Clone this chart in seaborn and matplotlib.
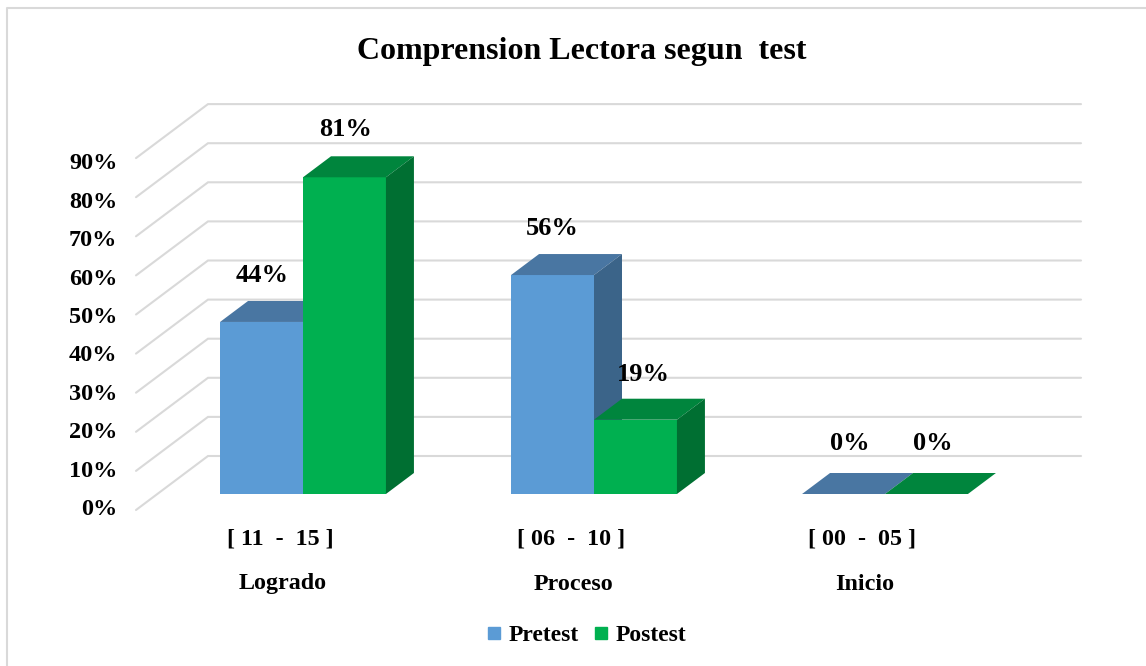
import matplotlib
matplotlib.use("Agg")
import matplotlib.pyplot as plt
from matplotlib.lines import Line2D
from matplotlib.patches import Polygon
import pandas as pd
import seaborn as sns

rangos = ["[ 11  -  15 ]", "[ 06  -  10 ]", "[ 00  -  05 ]"]
niveles = ["Logrado", "Proceso", "Inicio"]
pretest = [44, 56, 0]
postest = [81, 19, 0]
etiquetas_y = [0, 10, 20, 30, 40, 50, 60, 70, 80, 90]

azul = "#5B9BD5"
azul_top = "#4976A2"
azul_lado = "#3B6489"
verde = "#00B050"
verde_top = "#00853D"
verde_lado = "#006F32"
gris = "#D9D9D9"

W, H = 1146, 666
PX_X = 291.0   # pixeles por categoria
PX_Y = 3.91    # pixeles por punto porcentual
X0, Y0 = 157.5, 494.0


def px_x(p):
    return p / PX_X


def px_y(p):
    return p / PX_Y


sns.set_theme(style="white")
plt.rcParams["font.family"] = ["Liberation Serif", "DejaVu Serif"]
plt.rcParams["font.weight"] = "bold"

fig = plt.figure(figsize=(W / 100, H / 100), dpi=100)
ax = fig.add_axes([X0 / W, 1 - Y0 / H, 3 * PX_X / W, 100 * PX_Y / H])

df = pd.DataFrame({
    "nivel": niveles * 2,
    "valor": pretest + postest,
    "test": ["Pretest"] * 3 + ["Postest"] * 3,
})
sns.barplot(data=df, x="nivel", y="valor", hue="test", palette=[azul, verde],
            width=0.57, gap=0, saturation=1, legend=False, ax=ax)
ax.set_xlim(-0.5, 2.5)
ax.set_ylim(0, 100)
ax.set_xlabel("")
ax.set_ylabel("")
ax.set_xticks([])
ax.set_yticks([])
sns.despine(ax=ax, left=True, bottom=True)

# lineas de la pared y del lado izquierdo
for v in etiquetas_y:
    ax.plot([-0.5 - px_x(21.5), -0.5 + px_x(50.5), 2.5 + px_x(50.5)],
            [v - px_y(16), v + px_y(38), v + px_y(38)],
            color=gris, lw=1.5, zorder=1, clip_on=False, solid_joinstyle="miter")

# desplazamiento en pixeles de cada rotulo de dato (serie, categoria)
ajuste = {(0, 0): (1, 46), (1, 0): (1, 48), (0, 1): (0, 47), (1, 1): (8, 45),
          (0, 2): (6, 51), (1, 2): (6, 51)}

# caras superior y lateral de cada barra
DX = px_x(28)
DY = px_y(21)
colores = [(azul_top, azul_lado), (verde_top, verde_lado)]
for i, cont in enumerate(ax.containers):
    for j, bar in enumerate(cont):
        x = bar.get_x()
        w = bar.get_width()
        h = bar.get_height()
        bar.set_zorder(3 + i)
        bar.set_linewidth(0)
        top = Polygon([(x, h), (x + DX, h + DY), (x + w + DX, h + DY), (x + w, h)],
                      closed=True, fc=colores[i][0], ec="none", zorder=3 + i, clip_on=False)
        ax.add_patch(top)
        if h > 0:
            lado = Polygon([(x + w, 0), (x + w + DX, DY), (x + w + DX, h + DY), (x + w, h)],
                           closed=True, fc=colores[i][1], ec="none", zorder=3 + i, clip_on=False)
            ax.add_patch(lado)
        dx, dy = ajuste[(i, j)]
        ax.text(x + w / 2 + px_x(dx), h + px_y(dy), f"{h:.0f}%", ha="center", va="center",
                fontsize=19, color="black", zorder=8, clip_on=False)

# etiquetas del eje y
for v in etiquetas_y:
    ax.text(-0.5 - px_x(40), v * 0.982 - px_y(15.5), f"{v}%", ha="right", va="center",
            fontsize=17.5, color="black", clip_on=False)

# etiquetas de categoria
for i in range(len(niveles)):
    ax.text(i - px_x(23), -px_y(44.5), rangos[i], ha="center", va="center",
            fontsize=17.3, color="black", clip_on=False)
    ax.text(i - px_x(20), -px_y(90), niveles[i], ha="center", va="center",
            fontsize=17.3, color="black", clip_on=False)

fig.text(581.5 / W, 1 - 51 / H, "Comprension Lectora segun  test", ha="center", va="center",
         fontsize=23, color="black")

handles = [Line2D([], [], ls="", marker="s", ms=8, color=azul, label="Pretest"),
           Line2D([], [], ls="", marker="s", ms=8, color=verde, label="Postest")]
fig.legend(handles=handles, loc="center", bbox_to_anchor=(586.5 / W, 1 - 635 / H), ncol=2,
           frameon=False, fontsize=17, handlelength=0.6, handletextpad=0.3,
           columnspacing=0.65, labelcolor="black")

# marco del grafico
fig.add_artist(Line2D([7 / W, 7 / W, 1], [0, 1 - 8 / H, 1 - 8 / H], color=gris, lw=1.5))

fig.savefig("out.png", dpi=100, facecolor="white")
